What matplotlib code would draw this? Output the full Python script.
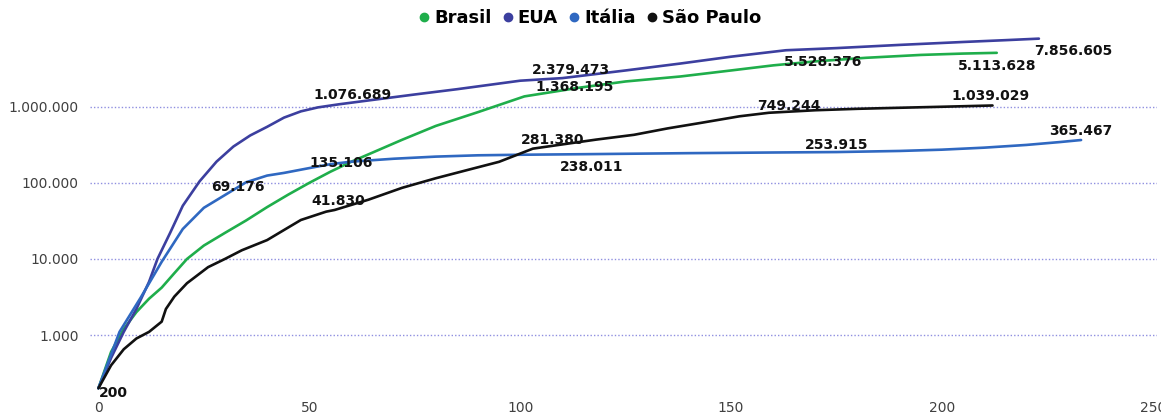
import matplotlib.pyplot as plt
from matplotlib.lines import Line2D
from matplotlib.ticker import FixedLocator, FuncFormatter

# days since the 200th case / cumulative cases
brasil_days = [0, 3, 6, 9, 12, 15, 18, 21, 25, 30, 35, 40, 45, 50, 55, 60, 65, 72, 80, 90,
               101, 114, 125, 138, 150, 160, 170, 182, 195, 205, 213]
brasil_cases = [200, 600, 1200, 2000, 3000, 4200, 6500, 10000, 15000, 22000, 32000, 48000,
                70000, 100000, 140000, 190000, 250000, 368000, 560000, 850000, 1368195,
                1780000, 2150000, 2500000, 3000000, 3500000, 3950000, 4400000, 4800000,
                5000000, 5113628]

eua_days = [0, 3, 6, 9, 12, 14, 17, 20, 24, 28, 32, 36, 40, 44, 48, 52, 57, 65, 75, 85,
            100, 110, 125, 138, 150, 163, 175, 190, 205, 215, 223]
eua_cases = [200, 500, 1100, 2200, 5000, 10000, 22000, 50000, 105000, 190000, 300000,
             420000, 545000, 720000, 870000, 980000, 1076689, 1230000, 1450000, 1700000,
             2200000, 2379473, 3000000, 3700000, 4550000, 5528376, 5900000, 6500000,
             7100000, 7500000, 7856605]

italia_days = [0, 5, 10, 15, 20, 25, 30, 35, 40, 44, 50, 55, 60, 70, 80, 90, 100, 115, 140,
               160, 175, 190, 200, 210, 220, 228, 233]
italia_cases = [200, 1100, 3089, 9172, 24747, 47021, 69176, 101739, 124632, 135106, 156363,
                175925, 189973, 207428, 221216, 230158, 234013, 238011, 245590, 250566,
                253915, 262540, 272912, 289990, 314861, 343770, 365467]

sp_days = [0, 3, 6, 9, 12, 15, 16, 18, 21, 26, 30, 34, 40, 44, 48, 54, 56, 64, 72, 80, 88,
           95, 103, 110, 118, 127, 135, 143, 152, 159, 170, 180, 190, 200, 212]
sp_cases = [200, 400, 650, 900, 1100, 1500, 2200, 3200, 4800, 7800, 10000, 13000, 17700,
            24000, 32500, 41830, 44000, 60000, 86000, 115000, 150000, 189000, 281380, 320000,
            370000, 428000, 520000, 616000, 749244, 834000, 900000, 940000, 970000, 1000000,
            1039029]

# labelled points: (day, value, offset in pixels)
brasil_labels = [(101, 1368195, (50, 9)), (213, 5113628, (0, -13))]
eua_labels = [(57, 1076689, (14, 9)), (110, 2379473, (9, 8)), (163, 5528376, (37, -12)),
              (223, 7856605, (34, -12))]
italia_labels = [(30, 69176, (13, 8)), (44, 135106, (57, 10)), (115, 238011, (8, -13)),
                 (175, 253915, (0, 7)), (233, 365467, (0, 9))]
sp_labels = [(0, 200, (15, -5)), (54, 41830, (12, 11)), (103, 281380, (20, 9)),
             (152, 749244, (49, 10)), (212, 1039029, (-2, 9))]

series = [
    ('Brasil', brasil_days, brasil_cases, '#1fae4b', brasil_labels),
    ('EUA', eua_days, eua_cases, '#3c3f9f', eua_labels),
    ('Itália', italia_days, italia_cases, '#2f68c1', italia_labels),
    ('São Paulo', sp_days, sp_cases, '#111111', sp_labels),
]


def br_fmt(v, pos=None):
    return '{:,.0f}'.format(v).replace(',', '.')


fig = plt.figure(figsize=(11.61, 4.15), dpi=100)
ax = fig.add_axes([90 / 1161, 15 / 415, 1067 / 1161, 369 / 415])

handles = []
for name, days, cases, color, labels in series:
    ax.plot(days, cases, color=color, lw=1.9, solid_capstyle='round', solid_joinstyle='round')
    for d, v, off in labels:
        ax.annotate(br_fmt(v), (d, v), xytext=off, textcoords='offset pixels',
                    ha='center', va='center', fontsize=10, fontweight='bold',
                    color='#111111')
    handles.append(Line2D([], [], color=color, marker='o', ls='none', markersize=6))

ax.set_yscale('log')
ax.set_xlim(-2, 251)
ax.set_ylim(140, 9.9e6)
ax.yaxis.set_major_locator(FixedLocator([1e3, 1e4, 1e5, 1e6]))
ax.yaxis.set_minor_locator(FixedLocator([]))
ax.yaxis.set_major_formatter(FuncFormatter(br_fmt))
ax.set_xticks([0, 50, 100, 150, 200, 250])
ax.grid(axis='y', color='#8f8fe0', linestyle=(0, (1, 1.5)), lw=1)
ax.tick_params(axis='both', length=0, labelsize=10, colors='#404040')
ax.tick_params(axis='y', pad=8)
ax.tick_params(axis='x', pad=1)
for s in ax.spines.values():
    s.set_visible(False)

fig.legend(handles, [s[0] for s in series], loc='center', bbox_to_anchor=(590 / 1161, 1 - 18 / 415),
           ncol=4, frameon=False, handlelength=0.6, handletextpad=0.25, columnspacing=0.6,
           prop={'weight': 'bold', 'size': 13})

fig.savefig('out.png', dpi=100)
